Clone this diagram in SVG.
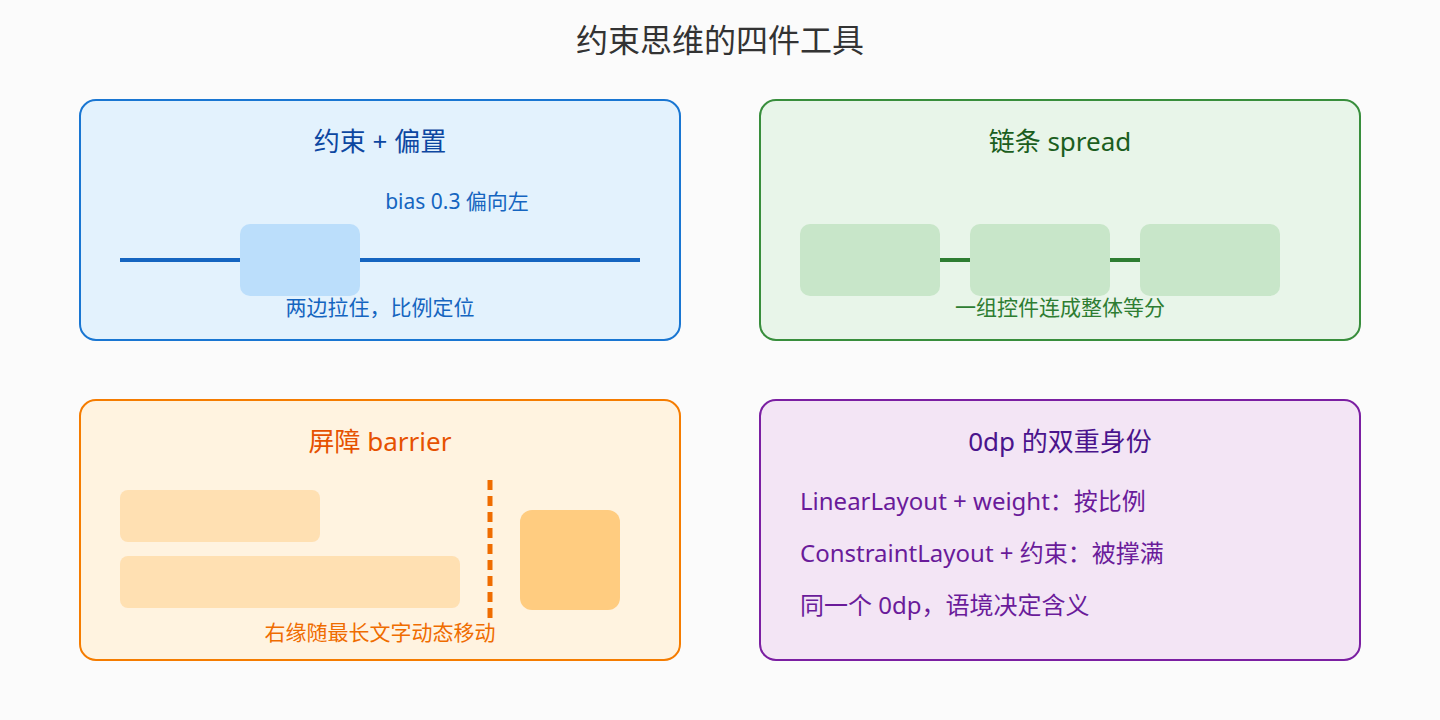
<svg xmlns="http://www.w3.org/2000/svg" width="1440" height="720" viewBox="0 0 1440 720">
<style>
text{font-family:"Noto Sans","Noto Sans CJK SC",sans-serif;dominant-baseline:middle}
.c{text-anchor:middle}
.t{font-size:26px}
.s{font-size:21px}
.l{font-size:24px}
.p{stroke-width:2}
</style>
<rect width="1440" height="720" fill="#fbfbfb"/>
<text x="720" y="43" class="c" font-size="32" fill="#333">约束思维的四件工具</text>
<g id="bias">
<rect x="80" y="100" width="600" height="240" rx="16" fill="#e3f2fd" stroke="#1976d2" class="p"/>
<text x="380" y="144" class="c t" fill="#0d47a1">约束 + 偏置</text>
<text x="457" y="203" class="c s" fill="#1565c0">bias 0.3 偏向左</text>
<line x1="120" y1="260" x2="640" y2="260" stroke="#1565c0" stroke-width="4"/>
<rect x="240" y="224" width="120" height="72" rx="10" fill="#bbdefb"/>
<text x="380" y="309" class="c s" fill="#1565c0">两边拉住，比例定位</text>
</g>
<g id="chain">
<rect x="760" y="100" width="600" height="240" rx="16" fill="#e8f5e9" stroke="#388e3c" class="p"/>
<text x="1060" y="144" class="c t" fill="#1b5e20">链条 spread</text>
<line x1="940" y1="260" x2="970" y2="260" stroke="#2e7d32" stroke-width="4"/>
<line x1="1110" y1="260" x2="1140" y2="260" stroke="#2e7d32" stroke-width="4"/>
<rect x="800" y="224" width="140" height="72" rx="10" fill="#c8e6c9"/>
<rect x="970" y="224" width="140" height="72" rx="10" fill="#c8e6c9"/>
<rect x="1140" y="224" width="140" height="72" rx="10" fill="#c8e6c9"/>
<text x="1060" y="309" class="c s" fill="#2e7d32">一组控件连成整体等分</text>
</g>
<g id="barrier">
<rect x="80" y="400" width="600" height="260" rx="16" fill="#fff3e0" stroke="#f57c00" class="p"/>
<text x="380" y="444" class="c t" fill="#e65100">屏障 barrier</text>
<rect x="120" y="490" width="200" height="52" rx="8" fill="#ffe0b2"/>
<rect x="120" y="556" width="340" height="52" rx="8" fill="#ffe0b2"/>
<line x1="490" y1="480" x2="490" y2="620" stroke="#ef6c00" stroke-width="5" stroke-dasharray="10,6"/>
<rect x="520" y="510" width="100" height="100" rx="12" fill="#ffcc80"/>
<text x="380" y="634" class="c s" fill="#ef6c00">右缘随最长文字动态移动</text>
</g>
<g id="zerodp">
<rect x="760" y="400" width="600" height="260" rx="16" fill="#f3e5f5" stroke="#7b1fa2" class="p"/>
<text x="1060" y="444" class="c t" fill="#4a148c">0dp 的双重身份</text>
<text x="800" y="504" class="l" fill="#6a1b9a">LinearLayout + weight：按比例</text>
<text x="800" y="556" class="l" fill="#6a1b9a">ConstraintLayout + 约束：被撑满</text>
<text x="800" y="608" class="l" fill="#6a1b9a">同一个 0dp，语境决定含义</text>
</g>
<g id="connectors"></g>
</svg>
